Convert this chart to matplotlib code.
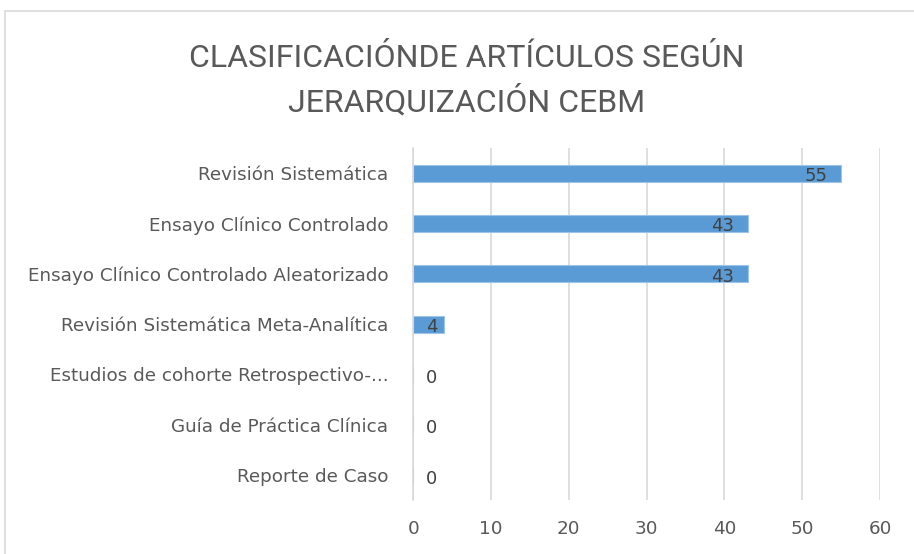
import matplotlib.pyplot as plt
from matplotlib.patches import Rectangle

categories = ['Revisión Sistemática', 'Ensayo Clínico Controlado',
              'Ensayo Clínico Controlado Aleatorizado',
              'Revisión Sistemática Meta-Analítica',
              'Estudios de cohorte Retrospectivo-...',
              'Guía de Práctica Clínica', 'Reporte de Caso']
values = [55, 43, 43, 4, 0, 0, 0]
xticks = [0, 10, 20, 30, 40, 50, 60]
title = 'CLASIFICACIÓNDE ARTÍCULOS SEGÚN\nJERARQUIZACIÓN CEBM'

plt.rcParams['font.family'] = ['DejaVu Sans']

fig = plt.figure(figsize=(9.14, 5.54), dpi=100)
ax = fig.add_axes([0.452, 0.097, 0.511, 0.636])

pos = list(range(len(categories)))
ax.barh(pos, values, height=0.34, color='#5b9bd5', edgecolor='#9dc3e6', linewidth=0.8, zorder=3)
ax.set_ylim(len(categories) - 0.5, -0.5)
ax.set_xlim(0, 60)
ax.set_xticks(xticks)
ax.set_yticks(pos)
ax.set_yticklabels(categories)

for p, v in zip(pos, values):
    if v > 0:
        ax.text(v - min(1.8, v * 0.2), p + 0.06, str(v), ha='right', va='center',
                fontsize=13, color='#404040', zorder=4)
    else:
        ax.text(2.3, p + 0.07, str(v), ha='center', va='center', fontsize=13,
                color='#404040', zorder=4)

ax.grid(axis='x', color='#d9d9d9', linewidth=1.2, zorder=0)
ax.axvline(0, color='#d9d9d9', linewidth=1.2, zorder=3.5, clip_on=False)
for s in ax.spines.values():
    s.set_visible(False)
ax.tick_params(axis='both', length=0, labelsize=13.2, labelcolor='#595959')
ax.tick_params(axis='y', pad=18)
ax.tick_params(axis='x', pad=14)

fig.text(0.511, 0.855, title, ha='center', va='center', fontsize=23,
         color='#595959', linespacing=1.45, family=['Roboto'])

fig.patches.append(Rectangle((0.005, -0.01), 1.0, 0.99, transform=fig.transFigure,
                             fill=False, edgecolor='#d9d9d9', linewidth=1.2))

fig.savefig('out.png', dpi=100, facecolor='white')
